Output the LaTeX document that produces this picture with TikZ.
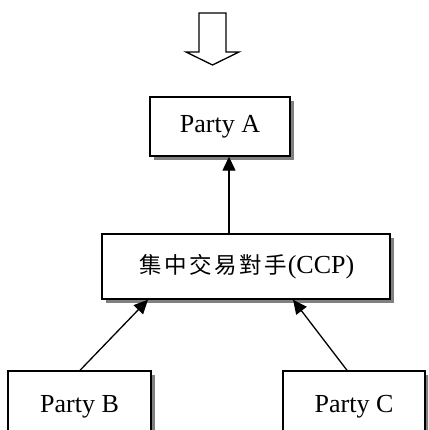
\documentclass[tikz,border=0pt]{standalone}
\usepackage{fontspec}
\setmainfont{Liberation Serif}
\newfontfamily\cjk{Noto Sans CJK TC}
\usetikzlibrary{shadows,arrows.meta}
\newcommand{\cj}[1]{\makebox[25pt]{\cjk\fontsize{22.5}{26}\selectfont #1}}
\tikzset{
  box/.style={draw=black,line width=1.4pt,fill=white,inner sep=0pt,
    font=\fontsize{26}{30}\selectfont,
    drop shadow={shadow xshift=4pt,shadow yshift=-4pt,fill=black!50,opacity=1}},
  conn/.style={line width=1.3pt,-{Triangle[length=14pt,width=13pt]}},
  hollow/.style={draw=black,line width=1.3pt,fill=white,line join=miter}
}
\begin{document}
\begin{tikzpicture}[x=1pt,y=-1pt]
\path[use as bounding box] (0,0) rectangle (428,430);
\clip (0,0) rectangle (428,430);
\fill[white] (0,0) rectangle (428,430);
% hollow down arrow
\draw[hollow] (199,13) -- (226,13) -- (226,52) -- (239,52) -- (212.5,65) -- (186,52) -- (199,52) -- cycle;
% boxes
\node[box,minimum width=140pt,minimum height=59pt] (pa) at (220,126.5) {Party A};
\node[box,minimum width=288pt,minimum height=65pt] (ccp) at (246,266.5)
  {\cj{集}\cj{中}\cj{交}\cj{易}\cj{對}\cj{手}(CCP)};
\node[box,minimum width=143pt,minimum height=72pt] (pb) at (79.5,407) {Party B};
\node[box,minimum width=142pt,minimum height=72pt] (pc) at (354,407) {Party C};
% connectors
\draw[conn] (ccp.north -| 229,0) -- (pa.south -| 229,0);
\draw[conn] (pb.north -| 80,0) -- (ccp.south -| 148,0);
\draw[conn] (pc.north -| 347,0) -- (ccp.south -| 293,0);
\end{tikzpicture}
\end{document}
